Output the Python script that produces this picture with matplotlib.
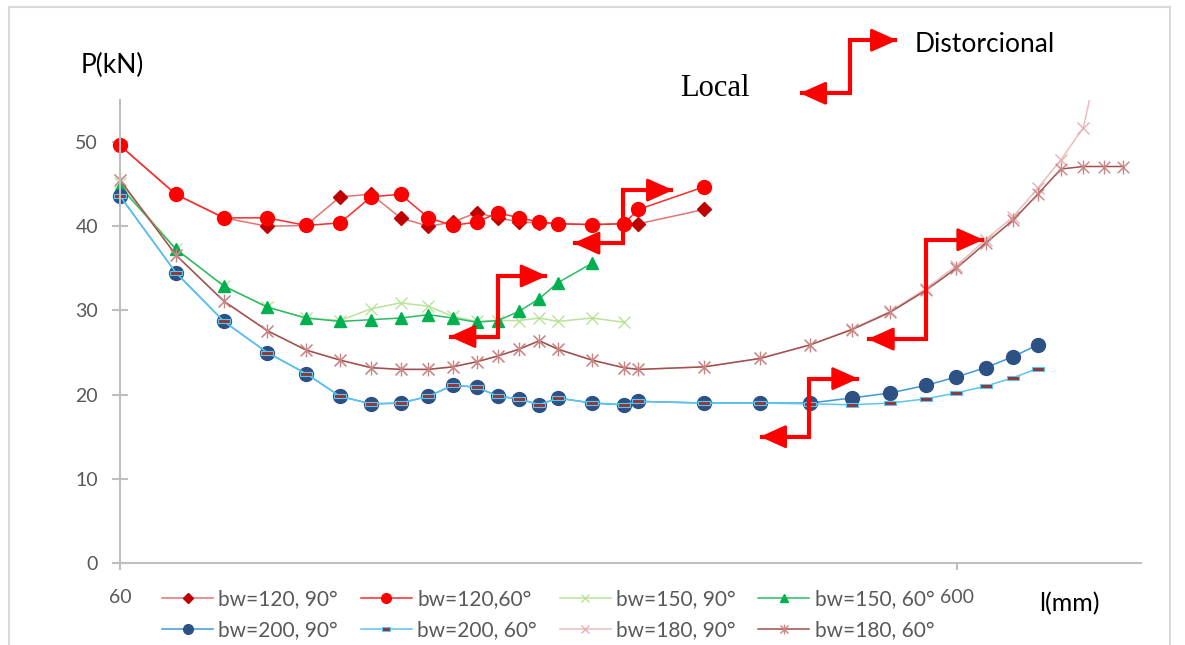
import numpy as np
import matplotlib
matplotlib.use("Agg")
import matplotlib.pyplot as plt
from matplotlib.patches import Rectangle
from matplotlib.path import Path

plt.rcParams['font.family'] = ['Lato', 'DejaVu Sans']

# ---- data: l (mm) vs P (kN) ----
x_120_90 = [60, 96, 127, 155, 180, 202, 222, 241, 259, 274.6, 290, 304, 317.5, 330.5, 342.5, 364.5, 385, 394.5, 437]
p_120_90 = [49.6, 43.8, 41.0, 40.0, 40.1, 43.5, 43.8, 41.0, 40.0, 40.5, 41.6, 41.0, 40.5, 40.4, 40.3, 40.2, 40.3, 40.3, 42.0]

x_120_60 = [60, 96, 127, 155, 180, 202, 222, 241, 259, 274.6, 290, 304, 317.5, 330.5, 342.5, 364.5, 385, 394.5, 437]
p_120_60 = [49.6, 43.8, 41.0, 41.0, 40.1, 40.4, 43.5, 43.8, 41.0, 40.1, 40.5, 41.6, 41.0, 40.5, 40.3, 40.2, 40.3, 42.0, 44.7]

x_150_90 = [60, 96, 127, 155, 180, 202, 222, 241, 259, 274.6, 290, 304, 317.5, 330.5, 342.5, 364.5, 385]
p_150_90 = [45.1, 37.3, 32.9, 30.4, 29.1, 28.8, 30.2, 30.9, 30.5, 29.3, 28.7, 28.8, 28.8, 29.1, 28.7, 29.1, 28.6]

x_150_60 = [60, 96, 127, 155, 180, 202, 222, 241, 259, 274.6, 290, 304, 317.5, 330.5, 342.5, 364.5]
p_150_60 = [44.7, 37.3, 32.9, 30.4, 29.1, 28.7, 28.9, 29.1, 29.5, 29.1, 28.6, 28.8, 29.9, 31.4, 33.3, 35.6]

x_200 = [60, 96, 127, 155, 180, 202, 222, 241, 259, 274.6, 290, 304, 317.5, 330.5, 342.5, 364.5,
         385, 394.5, 437, 473, 505, 532, 557, 580, 599.5, 618.5, 636, 652]
p_200_90 = [43.6, 34.5, 28.7, 25.0, 22.5, 19.8, 18.9, 19.0, 19.8, 21.1, 20.9, 19.8, 19.5, 18.8, 19.6, 19.0,
            18.8, 19.2, 19.0, 19.0, 19.0, 19.6, 20.2, 21.1, 22.1, 23.2, 24.5, 25.9]
p_200_60 = [43.6, 34.5, 28.7, 25.0, 22.5, 19.8, 18.9, 19.0, 19.8, 21.1, 20.9, 19.8, 19.5, 18.8, 19.6, 19.0,
            18.8, 19.2, 19.0, 19.0, 18.9, 18.8, 19.0, 19.5, 20.2, 21.0, 22.0, 23.1]

x_180_90 = [60, 96, 127, 155, 180, 202, 222, 241, 259, 274.6, 290, 304, 317.5, 330.5, 342.5, 364.5,
            385, 394.5, 437, 473, 505, 532, 557, 580, 599.5, 618.5, 636, 652, 667, 681.5, 695]
p_180_90 = [45.5, 36.6, 31.1, 27.6, 25.3, 24.1, 23.2, 23.0, 23.0, 23.3, 23.9, 24.6, 25.4, 26.4, 25.4, 24.1,
            23.2, 23.0, 23.3, 24.3, 25.9, 27.8, 29.9, 32.6, 35.3, 38.4, 41.1, 44.5, 47.9, 51.7, 63.0]

x_180_60 = [60, 96, 127, 155, 180, 202, 222, 241, 259, 274.6, 290, 304, 317.5, 330.5, 342.5, 364.5,
            385, 394.5, 437, 473, 505, 532, 557, 580, 599.5, 618.5, 636, 652, 667, 681.5, 695, 707]
p_180_60 = [45.5, 36.6, 31.1, 27.6, 25.3, 24.1, 23.2, 23.0, 23.0, 23.3, 23.9, 24.6, 25.4, 26.4, 25.4, 24.1,
            23.2, 23.0, 23.3, 24.3, 25.9, 27.7, 29.8, 32.4, 35.0, 38.0, 40.7, 43.8, 46.8, 47.1, 47.1, 47.1]

x_ticks = [60, 600]
y_ticks = [0, 10, 20, 30, 40, 50]

# elbow arrows: (x of vertical, y top, y bottom, tip right, tip left)
arrows = [
    (384.6, 44.3, 38.0, 416.8, 352.5),
    (304.1, 34.1, 26.9, 335.3, 272.5),
    (580.0, 38.4, 26.6, 617.0, 542.4),
    (504.7, 21.9, 15.0, 536.3, 472.9),
    (531.0, 62.1, 55.8, 561.3, 498.7),
]

# ---- figure ----
fig = plt.figure(figsize=(11.85, 6.45), dpi=100)
ax = fig.add_axes([120 / 1185, 82 / 645, 1021 / 1185, 463 / 645])
ax.set_xlim(60, 718.7)
ax.set_ylim(0, 55)

# border of chart area
fig.patches.append(Rectangle((9 / 1185, -0.1), 1161 / 1185, 1.1 - 7 / 645, transform=fig.transFigure,
                             fill=False, edgecolor='#D9D9D9', lw=1.5))

dash = Path([(-1, -0.35), (1, -0.35), (1, 0.35), (-1, 0.35), (-1, -0.35)])
star = Path([(-1, -1), (1, 1), (-1, 1), (1, -1), (0, -1.2), (0, 1.2)],
            [Path.MOVETO, Path.LINETO, Path.MOVETO, Path.LINETO, Path.MOVETO, Path.LINETO])

series = [
    (x_120_90, p_120_90, 'bw=120, 90°', dict(color='#E57373', marker='D', ms=7, mfc='#C00000', mec='#C00000')),
    (x_120_60, p_120_60, 'bw=120,60°', dict(color='#FF2A2A', marker='o', ms=10, mfc='#FF0000', mec='#FF0000')),
    (x_150_90, p_150_90, 'bw=150, 90°', dict(color='#B9E29A', marker='x', ms=9, mec='#B9E29A', mew=1)),
    (x_150_60, p_150_60, 'bw=150, 60°', dict(color='#2DBB63', marker='^', ms=9, mfc='#00B050', mec='#00B050')),
    (x_200, p_200_90, 'bw=200, 90°', dict(color='#3A9AD9', marker='o', ms=10, mfc='#2E5185', mec='#2E5185')),
    (x_200, p_200_60, 'bw=200, 60°', dict(color='#5CC4F0', marker=dash, ms=9, mfc='#943634', mec='#5CC4F0', mew=0.8)),
    (x_180_90, p_180_90, 'bw=180, 90°', dict(color='#E8BDBD', marker='x', ms=9, mec='#E8B0B0', mew=1)),
    (x_180_60, p_180_60, 'bw=180, 60°', dict(color='#A0504D', marker=star, ms=10, mec='#C98585', mew=1)),
]

clip = Rectangle((-0.05, -0.1), 1.1, 1.1, transform=ax.transAxes, visible=False)
ax.add_patch(clip)
handles = []
for xs, ps, label, style in series:
    line, = ax.plot(xs, ps, lw=1.1, label=label, **style)
    line.set_clip_path(clip)
    handles.append(line)

for xv, yt, yb, xr, xl in arrows:
    ax.plot([xr - 1, xv, xv, xl + 1], [yt, yt, yb, yb], color='#FF0000', lw=3,
            clip_on=False, solid_joinstyle='miter', zorder=6)
    for tip, y in ((xr, yt), (xl, yb)):
        ax.annotate('', xy=(tip, y), xytext=(xv, y), annotation_clip=False, zorder=6,
                    arrowprops=dict(arrowstyle='-|>,head_length=0.8,head_width=0.36', color='#FF0000',
                                    lw=2, shrinkA=0, shrinkB=0, mutation_scale=20))

# axes styling
for s in ['top', 'right']:
    ax.spines[s].set_visible(False)
for s in ['left', 'bottom']:
    ax.spines[s].set_color('#BFBFBF')
    ax.spines[s].set_linewidth(1.5)
ax.set_yticks(y_ticks)
ax.set_xticks(x_ticks)
ax.set_xticklabels([str(v) for v in x_ticks])
ax.tick_params(axis='y', direction='inout', length=11.5, width=1.5, color='#BFBFBF',
               labelsize=14, labelcolor='#595959', pad=10)
ax.tick_params(axis='x', direction='out', length=5, width=1.5, color='#BFBFBF',
               labelsize=14, labelcolor='#595959', pad=14)

fig.text(112 / 1185, 1 - 65 / 645, 'P(kN)', fontsize=19, ha='center', va='center')
fig.text(1069 / 1185, 1 - 604 / 645, 'l(mm)', fontsize=18, ha='center', va='center')
fig.text(715 / 1185, 1 - 89 / 645, 'Local', fontsize=22, ha='center', va='center',
         family='Liberation Serif')
fig.text(915 / 1185, 1 - 45 / 645, 'Distorcional', fontsize=19, ha='left', va='center')

# legend filled row by row, as in the reference
order = [0, 4, 1, 5, 2, 6, 3, 7]
fig.legend([handles[i] for i in order], [series[i][2] for i in order],
           loc='upper left', bbox_to_anchor=(162 / 1185, 1 - 589 / 645), ncol=4, frameon=False,
           fontsize=15, labelcolor='#595959', handlelength=2.45, handletextpad=0.25,
           columnspacing=1.1, markerscale=0.7, borderaxespad=0, borderpad=0, labelspacing=0.55)

fig.savefig('out.png', dpi=100)
